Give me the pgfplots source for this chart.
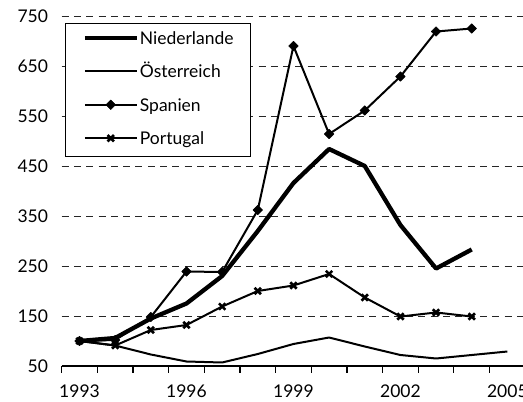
\documentclass[border=0pt]{standalone}
\usepackage{fontspec}
\setmainfont{Lato}
\usepackage{pgfplots}
\pgfplotsset{compat=1.18}
\usetikzlibrary{calc}
\begin{document}
\begin{tikzpicture}
\begin{axis}[
 name=ax,
 scale only axis,
 width=463.5bp, height=350bp,
 xmin=-0.5, xmax=12.5, ymin=50, ymax=750,
 axis x line*=bottom, axis y line*=left,
 y axis line style={draw=none},
 x axis line style={-, line width=1.2bp, black},
 xtick={0,3,6,9,12},
 xticklabels={1993,1996,1999,2002,2005},
 minor xtick={-0.5,0.5,...,12.5},
 major tick length=0pt,
 minor tick length=6.7bp,
 tick align=outside,
 minor tick style={line width=1.2bp, black},
 ytick={50,150,...,750},
 ytick style={draw=none},
 ymajorgrids,
 major grid style={dash pattern=on 7bp off 5.3bp, line width=1bp, black!85},
 /pgf/number format/assume math mode=true,
 ticklabel style={font=\fontsize{17.5bp}{20bp}\selectfont},
 yticklabel style={anchor=east, inner sep=0pt, xshift=-13.5bp},
 xticklabel style={anchor=north, inner sep=0pt, yshift=-19bp},
 clip=false,
 legend cell align=left,
 legend style={at={(0.00712,0.9809)}, anchor=north west, draw=black, line width=1.2bp, fill=white,
   inner xsep=17bp, inner ysep=8bp, row sep=16.4bp, column sep=1bp,
   font=\fontsize{17.5bp}{20bp}\selectfont,
   nodes={inner sep=0pt, text height=13bp, text depth=4bp}},
 legend image code/.code={\draw[mark repeat=2,mark phase=2,#1] plot coordinates {(0bp,1.8bp) (26bp,1.8bp) (52bp,1.8bp)};},
]
\addplot[black, line width=4.3bp, line join=round] coordinates {
 (0,100) (1,106) (2,145) (3,175) (4,230) (5,320) (6,416) (7,484) (8,450) (9,332) (10,245) (11,283)};
\addlegendentry{Niederlande}
\addplot[black, line width=2bp, line join=round] coordinates {
 (0,100) (1,91) (2,73) (3,59) (4,57) (5,74) (6,94) (7,107) (8,89) (9,72) (10,65) (11,72) (12,79)};
\addlegendentry{Österreich}
\addplot[black, line width=2bp, line join=round, mark=square*, mark size=3.4bp,
  mark options={rotate=45, solid, fill=black, line width=0.5bp}] coordinates {
 (0,100) (1,102) (2,148) (3,239) (4,238) (5,362) (6,690) (7,514) (8,561) (9,629) (10,719) (11,725)};
\addlegendentry{Spanien}
\addplot[black, line width=2bp, line join=round, mark=x, mark size=4.5bp,
  mark options={solid, line width=2.6bp}] coordinates {
 (0,100) (1,91) (2,122) (3,132) (4,169) (5,200) (6,211) (7,234) (8,187) (9,149) (10,157) (11,149)};
\addlegendentry{Portugal}
\end{axis}
\pgfresetboundingbox
\path[use as bounding box] ($(ax.south west)+(-61.7bp,-36bp)$) rectangle ++(523bp,402bp);
\end{tikzpicture}
\end{document}
